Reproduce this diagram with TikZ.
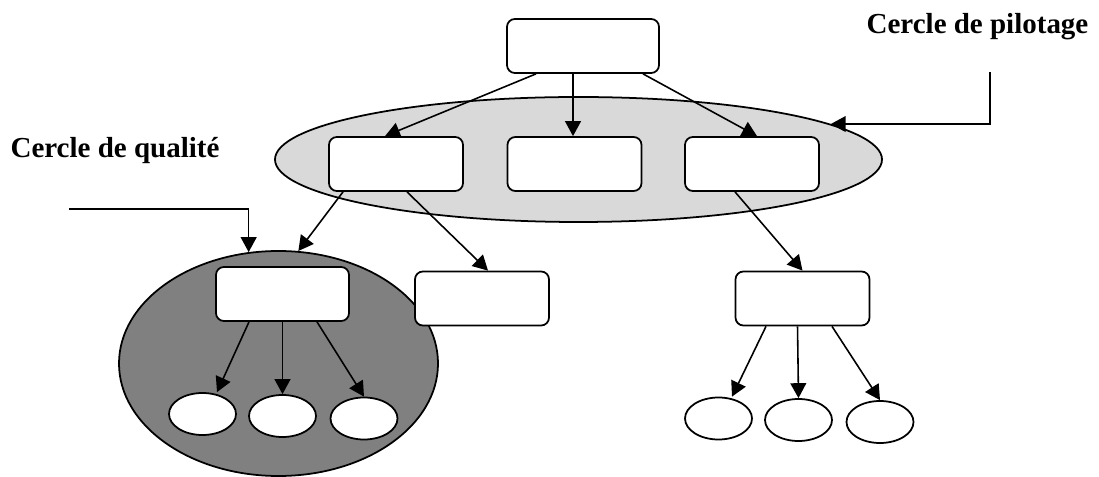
\documentclass[tikz,border=0pt]{standalone}
\usepackage{fontspec}
\setmainfont{Liberation Serif}
\usetikzlibrary{arrows.meta, positioning, shapes.geometric, calc}

\begin{document}
\begin{tikzpicture}[
    box/.style={draw, line width=1pt, rounded corners=4.5pt, fill=white, minimum width=2.68cm, minimum height=1.08cm, inner sep=0pt},
    leaf/.style={draw, line width=1pt, ellipse, fill=white, minimum width=1.34cm, minimum height=0.84cm, inner sep=0pt},
    circ/.style={draw, line width=1pt, ellipse, inner sep=0pt},
    arr/.style={-{Triangle[length=8.5pt, width=9pt]}, line width=0.9pt},
    lbl/.style={font=\fontsize{16.5}{20}\selectfont\bfseries}
]
    \useasboundingbox (0,0) rectangle (21.98,-9.54);

    % --- Circles (drawn first, boxes sit on them) ---
    \node[circ, fill=gray!30, minimum width=12.14cm, minimum height=2.5cm] (pilot) at (11.57, -3.19) {};
    \node[circ, fill=gray, minimum width=6.38cm, minimum height=4.5cm] (quality) at (5.57, -7.27) {};

    % --- Boxes ---
    \node[box, minimum width=3.04cm] (top) at (11.66, -0.92) {};
    \node[box] (p1) at (7.92, -3.28) {};
    \node[box] (p2) at (11.49, -3.28) {};
    \node[box] (p3) at (15.04, -3.28) {};
    \node[box, minimum width=2.66cm] (qbox) at (5.65, -5.88) {};
    \node[box] (mbox) at (9.64, -5.97) {};
    \node[box] (rbox) at (16.05, -5.97) {};

    % --- Leaves ---
    \node[leaf] (q1) at (4.05, -8.28) {};
    \node[leaf] (q2) at (5.65, -8.32) {};
    \node[leaf] (q3) at (7.28, -8.37) {};
    \node[leaf] (r1) at (14.37, -8.37) {};
    \node[leaf] (r2) at (15.97, -8.40) {};
    \node[leaf] (r3) at (17.60, -8.44) {};

    % --- Tree arrows ---
    \draw[arr] ([xshift=-0.94cm]top.south) -- ([xshift=-0.22cm]p1.north);
    \draw[arr] ([xshift=-0.2cm]top.south) -- ([xshift=-0.03cm]p2.north);
    \draw[arr] ([xshift=1.2cm]top.south) -- ([xshift=0.1cm]p3.north);
    \draw[arr] ([xshift=-1.06cm]p1.south) -- (quality.80);
    \draw[arr] ([xshift=0.22cm]p1.south) -- ([xshift=0.12cm]mbox.north);
    \draw[arr] ([xshift=-0.34cm]p3.south) -- (rbox.north);
    \draw[arr] ([xshift=-0.67cm]qbox.south) -- ([xshift=0.29cm]q1.north);
    \draw[arr] (qbox.south) -- (q2.north);
    \draw[arr] ([xshift=0.69cm]qbox.south) -- (q3.north);
    \draw[arr] ([xshift=-0.73cm]rbox.south) -- ([xshift=0.27cm]r1.north);
    \draw[arr] ([xshift=-0.1cm]rbox.south) -- (r2.north);
    \draw[arr] ([xshift=0.59cm]rbox.south) -- (r3.north);

    % --- Labels and their pointers ---
    \node[lbl, anchor=base] (pilottxt) at (19.55, -0.68) {Cercle de pilotage};
    \node[lbl, anchor=base] (qualtxt) at (2.3, -3.16) {Cercle de qualité};
    \coordinate (pilin) at (19.8, -1.44);
    \coordinate (qualin) at (1.38, -4.18);
    \draw[arr] (pilin) |- (pilot.8);
    \draw[arr] (qualin) -| (quality.105);
\end{tikzpicture}
\end{document}
